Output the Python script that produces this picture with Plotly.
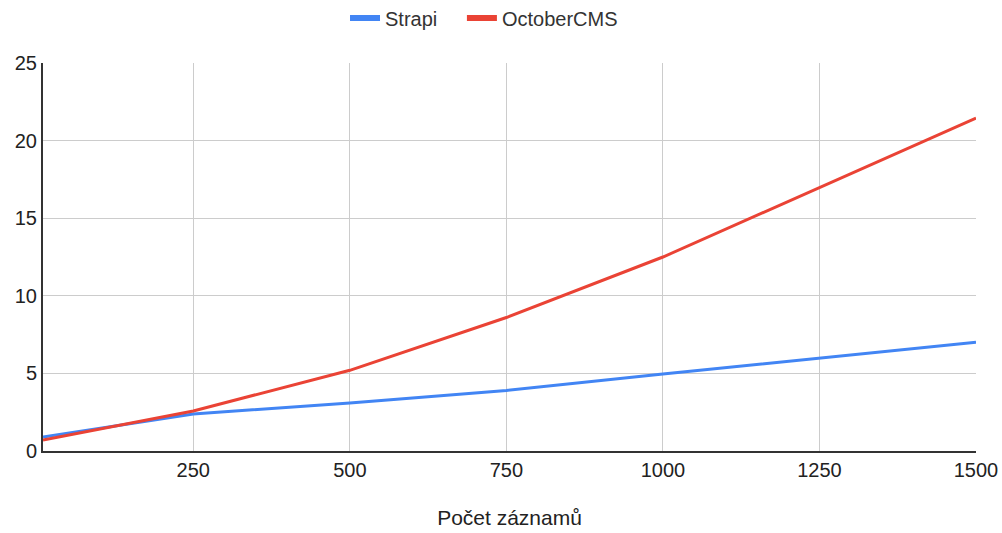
import plotly.graph_objects as go

x_values = [10, 250, 500, 750, 1000, 1250, 1500]
strapi = [0.9, 2.38, 3.1, 3.9, 4.96, 6.0, 7.0]
october = [0.7, 2.58, 5.2, 8.6, 12.5, 17.0, 21.45]
x_ticks = [250, 500, 750, 1000, 1250, 1500]
y_ticks = [0, 5, 10, 15, 20, 25]

fig = go.Figure()
fig.add_trace(go.Scatter(x=x_values, y=strapi, mode="lines", name="Strapi",
                         line=dict(color="#4285F4", width=3), showlegend=False))
fig.add_trace(go.Scatter(x=x_values, y=october, mode="lines", name="OctoberCMS",
                         line=dict(color="#EA4335", width=3), showlegend=False))
# legend entries with thicker swatches
fig.add_trace(go.Scatter(x=[None], y=[None], mode="lines", name="Strapi",
                         line=dict(color="#4285F4", width=6), legend="legend"))
fig.add_trace(go.Scatter(x=[None], y=[None], mode="lines", name="OctoberCMS",
                         line=dict(color="#EA4335", width=6), legend="legend2"))

font_family = "Liberation Sans, Arial, sans-serif"
txt = "#222222"
leg_common = dict(orientation="h", xanchor="left", y=1.116, yanchor="middle",
                  font=dict(size=20, color="#333333"), itemwidth=30)
fig.update_layout(
    width=1002, height=533,
    margin=dict(l=43, r=26, t=63, b=82, autoexpand=False),
    paper_bgcolor="white", plot_bgcolor="white",
    font=dict(family=font_family, size=20, color=txt),
    showlegend=True,
    legend=dict(x=0.3237, **leg_common),
    legend2=dict(x=0.449, **leg_common),
    xaxis=dict(range=[10, 1500], tickvals=x_ticks, ticktext=[str(v) for v in x_ticks],
               showgrid=True, gridcolor="#CCCCCC", gridwidth=1,
               showline=True, linecolor="#333333", linewidth=2,
               zeroline=False, ticks="", automargin=False,
               tickfont=dict(size=20, color=txt),
               title=dict(text="Počet záznamů", font=dict(size=21, color=txt), standoff=30)),
    yaxis=dict(range=[0, 25], tickvals=y_ticks,
               showgrid=True, gridcolor="#CCCCCC", gridwidth=1,
               showline=True, linecolor="#333333", linewidth=2,
               zeroline=False, ticks="", automargin=False,
               tickfont=dict(size=20, color=txt)),
)
fig.write_html("out.html", config={"displayModeBar": False},
               post_script="document.body.style.margin='0';document.body.style.overflow='hidden';")
